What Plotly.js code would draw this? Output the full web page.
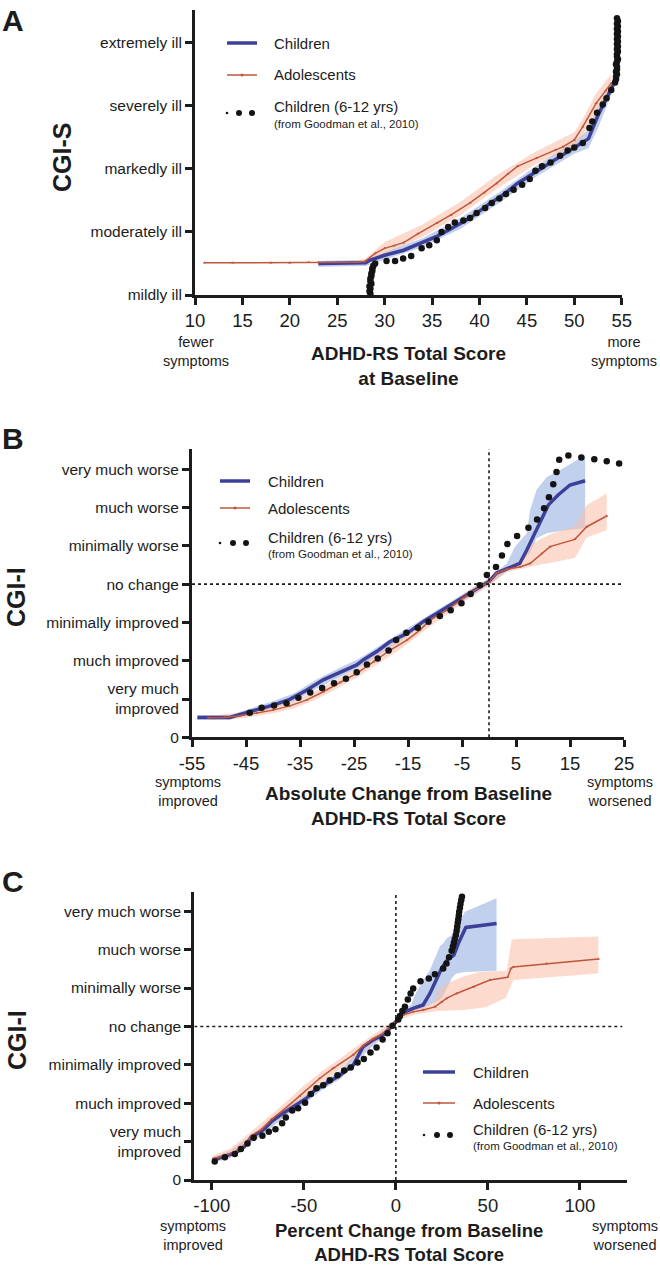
<!DOCTYPE html>
<html><head><meta charset="utf-8">
<script src="https://cdn.plot.ly/plotly-3.0.1.min.js"></script>
<style>html,body{margin:0;padding:0;background:#fff}#chart{width:660px;height:1265px}</style>
</head><body><div id="chart"></div>
<script>
// ---------------- DATA ----------------
// Panel A: CGI-S vs ADHD-RS baseline total score
const A_child_x = [23, 25, 27, 28, 28.4, 30, 32, 34, 35.5, 37, 39, 41, 42.5, 44, 46, 48, 49.5, 50.5, 51.5, 52.5, 53.3, 54.1];
const A_child_y = [3.50, 3.50, 3.50, 3.51, 3.55, 3.63, 3.71, 3.83, 3.93, 4.05, 4.22, 4.44, 4.59, 4.77, 4.96, 5.15, 5.30, 5.38, 5.48, 5.85, 6.10, 6.33];
const A_child_band_x = [23, 28, 30, 34, 38, 42, 46, 50, 51.5, 52.5, 54.1];
const A_child_lo = [3.45, 3.46, 3.56, 3.76, 4.05, 4.45, 4.88, 5.24, 5.33, 5.65, 6.25];
const A_child_hi = [3.54, 3.56, 3.68, 3.90, 4.22, 4.62, 5.05, 5.44, 5.62, 6.00, 6.40];

const A_adol_x = [11, 14, 18, 20, 22, 23, 24, 25, 26, 27, 27.9, 29, 30, 31, 32, 33.5, 35.5, 37, 39, 40.5, 41.8, 43, 44, 46, 48, 48.8, 50, 50.9, 52.3, 53.3, 53.9];
const A_adol_y = [3.51, 3.51, 3.51, 3.51, 3.52, 3.52, 3.52, 3.52, 3.52, 3.52, 3.53, 3.66, 3.74, 3.78, 3.83, 3.97, 4.14, 4.27, 4.46, 4.62, 4.77, 4.92, 5.04, 5.17, 5.30, 5.35, 5.46, 5.67, 6.04, 6.24, 6.36];
const A_adol_band_x = [27, 27.9, 30, 34, 38, 42, 46, 50, 51, 52.3, 53.9];
const A_adol_lo = [3.49, 3.49, 3.66, 3.92, 4.27, 4.70, 5.08, 5.36, 5.55, 5.88, 6.24];
const A_adol_hi = [3.55, 3.57, 3.84, 4.12, 4.48, 4.92, 5.28, 5.58, 5.82, 6.20, 6.50];

const A_good_x = [28.5, 28.4, 28.5, 28.4, 28.6, 28.5, 28.5, 28.6, 28.6, 28.7, 28.7, 28.8, 29.0, 30.2, 31.1, 31.95, 32.8, 33.9, 34.7, 35.5, 36.0, 36.7, 37.4, 38.3, 39.0, 39.7, 40.6, 41.3, 42.1, 42.8, 43.6, 44.5, 45.3, 45.9, 46.6, 47.5, 48.5, 49.3, 50.0, 50.9, 51.6, 51.9, 52.4, 53.0, 53.4, 53.9, 54.3, 54.4, 54.4, 54.5, 54.4, 54.5, 54.5, 54.4, 54.5, 54.6, 54.5, 54.5, 54.6, 54.5, 54.6, 54.5, 54.6, 54.5, 54.6, 54.5, 54.6, 54.5, 54.6, 54.5, 54.6, 54.5];
const A_good_y = [3.02, 3.06, 3.10, 3.14, 3.18, 3.22, 3.26, 3.30, 3.34, 3.38, 3.42, 3.46, 3.50, 3.54, 3.54, 3.58, 3.62, 3.74, 3.79, 3.87, 4.00, 4.08, 4.15, 4.18, 4.22, 4.30, 4.38, 4.46, 4.53, 4.60, 4.67, 4.75, 4.84, 4.97, 5.04, 5.10, 5.21, 5.29, 5.34, 5.41, 5.65, 5.75, 5.89, 6.02, 6.12, 6.25, 6.37, 6.42, 6.46, 6.50, 6.54, 6.58, 6.62, 6.66, 6.70, 6.74, 6.78, 6.82, 6.86, 6.90, 6.94, 6.98, 7.02, 7.06, 7.10, 7.14, 7.18, 7.22, 7.26, 7.30, 7.34, 7.39];

const A_xticks = [10, 15, 20, 25, 30, 35, 40, 45, 50, 55];
const A_yticks = [3, 4, 5, 6, 7];
const A_ylabels = ['mildly ill', 'moderately ill', 'markedly ill', 'severely ill', 'extremely ill'];

// Panel B: CGI-I vs absolute change
const B_child_x = [-54, -48, -44.3, -40, -36.9, -33.8, -30.7, -27.6, -24.5, -23.3, -20.8, -18.3, -15.2, -12.2, -9, -6, -3, 0, 1.4, 3.3, 5.7, 7.0, 9.1, 11.0, 12.8, 15.0, 17.8];
const B_child_y = [0.52, 0.52, 0.67, 0.84, 0.99, 1.23, 1.50, 1.69, 1.89, 2.02, 2.24, 2.50, 2.71, 3.02, 3.30, 3.55, 3.82, 4.07, 4.29, 4.40, 4.54, 4.89, 5.50, 6.07, 6.33, 6.59, 6.70];
const B_child_band_x = [-54, -48, -44, -40, -36, -32, -28, -24, -20, -16, -12, -8, -4, 0, 3.3, 4.8, 7.0, 7.6, 8.8, 10.7, 13.2, 17.8];
const B_child_lo = [0.46, 0.46, 0.60, 0.75, 0.95, 1.27, 1.55, 1.83, 2.18, 2.55, 2.93, 3.28, 3.62, 3.98, 4.33, 4.42, 4.72, 4.82, 5.20, 5.33, 5.39, 5.46];
const B_child_hi = [0.58, 0.58, 0.76, 0.94, 1.16, 1.50, 1.79, 2.06, 2.42, 2.77, 3.13, 3.48, 3.82, 4.16, 4.54, 4.98, 5.33, 5.93, 6.46, 6.80, 6.98, 7.37];

const B_adol_x = [-52, -49, -46.1, -43, -40, -36.9, -33.8, -30.7, -27.6, -24.5, -21.4, -18.3, -15.2, -12.8, -10.9, -7.8, -4.8, -1.7, 0, 1.4, 3.3, 5.7, 7.6, 9.8, 11.3, 15.9, 18.1, 21.8];
const B_adol_y = [0.51, 0.52, 0.56, 0.63, 0.71, 0.82, 0.97, 1.19, 1.43, 1.67, 1.97, 2.28, 2.54, 2.80, 3.06, 3.32, 3.63, 3.93, 4.05, 4.28, 4.39, 4.45, 4.54, 4.80, 4.98, 5.17, 5.50, 5.78];
const B_adol_band_x = [-52, -46, -40, -36, -32, -28, -24, -20, -16, -12, -8, -4, 0, 3.3, 5.7, 7.6, 9.8, 11.3, 15.9, 18.1, 21.8];
const B_adol_lo = [0.46, 0.49, 0.62, 0.76, 0.99, 1.28, 1.60, 1.98, 2.34, 2.78, 3.18, 3.60, 3.96, 4.32, 4.40, 4.45, 4.52, 4.55, 4.68, 5.22, 5.41];
const B_adol_hi = [0.56, 0.64, 0.81, 0.97, 1.22, 1.53, 1.85, 2.24, 2.61, 3.03, 3.43, 3.83, 4.15, 4.46, 4.62, 5.02, 5.20, 5.30, 5.52, 6.07, 6.37];

const B_good_x = [-44.3, -42.1, -39.8, -37.5, -35.3, -33.1, -30.9, -28.7, -26.5, -24.5, -22.6, -20.6, -18.6, -17.2, -15.3, -13.2, -11.2, -9.1, -7.1, -5.1, -3.4, -1.7, -0.4, 1.3, 2.4, 3.4, 5.2, 7.3, 8.9, 10.2, 11.1, 11.9, 12.5, 13.0, 14.7, 17.1, 19.5, 21.8, 24.1];
const B_good_y = [0.64, 0.77, 0.83, 0.89, 1.03, 1.17, 1.29, 1.41, 1.53, 1.70, 1.90, 2.06, 2.27, 2.54, 2.73, 2.86, 3.02, 3.17, 3.32, 3.50, 3.74, 3.97, 4.24, 4.45, 4.75, 5.05, 5.26, 5.47, 5.69, 5.98, 6.27, 6.61, 6.93, 7.25, 7.36, 7.31, 7.26, 7.21, 7.15];

const B_xticks = [-55, -45, -35, -25, -15, -5, 5, 15, 25];
const CGI_I_ticks = [0, 1, 2, 3, 4, 5, 6, 7];
const CGI_I_labels = ['0', 'very much<br>improved', 'much improved', 'minimally improved', 'no change', 'minimally worse', 'much worse', 'very much worse'];

// Panel C: CGI-I vs percent change
const C_child_x = [-99.3, -92.9, -86.6, -82.1, -78.4, -73.0, -67.6, -61.2, -54.0, -48.5, -44.0, -37.7, -30.4, -23.2, -17.8, -12.3, -6.9, -1.4, 4.0, 9.4, 14.8, 18.5, 22.1, 24.8, 28.4, 31.5, 33.9, 38.0, 54.7];
const C_child_y = [0.52, 0.61, 0.72, 0.87, 1.13, 1.26, 1.52, 1.74, 1.95, 2.13, 2.34, 2.52, 2.73, 2.99, 3.47, 3.65, 3.78, 4.04, 4.36, 4.47, 4.56, 4.86, 5.21, 5.51, 5.76, 5.86, 6.16, 6.58, 6.68];
const C_child_band_x = [-99.3, -90, -80, -70, -60, -50, -40, -30, -20, -10, -1.4, 4.0, 8.3, 10.3, 14.8, 18.5, 23.9, 25.7, 27.5, 30.3, 32.1, 33.0, 37.5, 54.7];
const C_child_lo = [0.45, 0.57, 0.92, 1.27, 1.67, 1.97, 2.35, 2.64, 3.16, 3.60, 3.95, 4.28, 4.38, 4.42, 4.47, 4.55, 4.69, 4.80, 4.95, 5.25, 5.35, 5.38, 5.42, 5.45];
const C_child_hi = [0.60, 0.76, 1.12, 1.48, 1.88, 2.18, 2.55, 2.85, 3.40, 3.80, 4.12, 4.44, 4.55, 4.82, 5.20, 5.47, 6.08, 6.16, 6.29, 6.38, 6.51, 6.60, 6.99, 7.34];

const C_adol_x = [-99.3, -92.9, -86.6, -82.1, -78.4, -73.0, -67.6, -61.2, -52.2, -41.3, -34.1, -23.2, -17.8, -12.3, -6.9, -1.4, 4.0, 9.4, 14.8, 21.2, 24.8, 27.5, 33.0, 42.0, 51.1, 60.7, 62.5, 63.8, 81.9, 110];
const C_adol_y = [0.56, 0.63, 0.76, 0.92, 1.16, 1.32, 1.58, 1.82, 2.19, 2.65, 2.91, 3.26, 3.50, 3.68, 3.82, 4.05, 4.30, 4.38, 4.43, 4.51, 4.64, 4.73, 4.86, 5.03, 5.21, 5.28, 5.51, 5.55, 5.64, 5.76];
const C_adol_band_x = [-99.3, -90, -80, -70, -60, -50, -40, -30, -20, -10, -1.4, 4.0, 9.4, 15, 20, 23, 27.5, 36.6, 45.7, 49.3, 59.8, 60.2, 62.9, 63.8, 110];
const C_adol_lo = [0.48, 0.58, 0.94, 1.32, 1.72, 2.15, 2.55, 2.90, 3.28, 3.63, 3.95, 4.20, 4.30, 4.35, 4.38, 4.40, 4.42, 4.43, 4.48, 4.51, 4.75, 4.77, 5.10, 5.21, 5.38];
const C_adol_hi = [0.64, 0.82, 1.20, 1.60, 2.02, 2.46, 2.84, 3.17, 3.53, 3.86, 4.15, 4.40, 4.47, 4.55, 4.60, 4.95, 5.12, 5.30, 5.42, 5.43, 5.45, 5.45, 6.25, 6.27, 6.34];

const C_good_x = [-98.4, -92.9, -87.5, -84.2, -80.6, -77.2, -72.5, -69.0, -65.4, -61.8, -59.8, -56.3, -53.1, -49.3, -46.2, -43.1, -39.5, -35.9, -31.7, -28.1, -24.5, -20.8, -17.4, -13.8, -10.5, -7.2, -4.5, -1.8, 1.3, 2.2, 3.5, 4.9, 6.5, 8.0, 9.4, 13.4, 17.9, 21.2, 25.7, 27.5, 28.9, 30.3, 31.0, 31.5, 32.0, 32.6, 33.0, 33.3, 33.6, 33.9, 34.2, 34.4, 34.8, 35.1, 35.5, 35.9];
const C_good_y = [0.48, 0.59, 0.68, 0.81, 0.95, 1.10, 1.15, 1.26, 1.32, 1.48, 1.63, 1.81, 1.87, 2.01, 2.24, 2.39, 2.47, 2.60, 2.73, 2.85, 2.93, 3.06, 3.15, 3.32, 3.45, 3.66, 3.82, 4.02, 4.18, 4.27, 4.40, 4.51, 4.70, 4.86, 4.99, 5.18, 5.25, 5.36, 5.51, 5.64, 5.80, 5.97, 6.08, 6.18, 6.28, 6.38, 6.49, 6.60, 6.70, 6.79, 6.89, 6.99, 7.09, 7.19, 7.29, 7.38];

const C_xticks = [-100, -50, 0, 50, 100];

// ---------------- STYLE ----------------
const W = 660, H = 1265;
const FONT = 'Liberation Sans, Arial, Helvetica, sans-serif';
const INK = '#1c1c1c';
const BLUE = '#3d3f98', BLUE_FILL = 'rgba(140,170,222,0.55)';
const ORANGE = '#c0573b', ORANGE_FILL = 'rgba(250,190,165,0.55)';
const DOT = '#141414';
const px = v => v / W;
const py = v => 1 - v / H;

function band(xs, lo, hi, fill, xa, ya) {
  return {x: xs.concat(xs.slice().reverse()), y: hi.concat(lo.slice().reverse()),
    xaxis: xa, yaxis: ya, type: 'scatter', mode: 'lines', fill: 'toself',
    fillcolor: fill, line: {width: 0}, hoverinfo: 'skip'};
}
function childLine(x, y, xa, ya) {
  return {x, y, xaxis: xa, yaxis: ya, type: 'scatter', mode: 'lines', line: {color: BLUE, width: 3.5}};
}
function adolLine(x, y, xa, ya) {
  return {x, y, xaxis: xa, yaxis: ya, type: 'scatter', mode: 'lines+markers',
    line: {color: ORANGE, width: 1.5}, marker: {color: ORANGE, size: 3, symbol: 'triangle-up'}};
}
function dots(x, y, xa, ya, s) {
  return {x, y, xaxis: xa, yaxis: ya, type: 'scatter', mode: 'markers', cliponaxis: false,
    marker: {color: DOT, size: s, line: {width: 0}}};
}

const data = [
  band(A_child_band_x, A_child_lo, A_child_hi, BLUE_FILL, 'x', 'y'),
  band(A_adol_band_x, A_adol_lo, A_adol_hi, ORANGE_FILL, 'x', 'y'),
  childLine(A_child_x, A_child_y, 'x', 'y'),
  adolLine(A_adol_x, A_adol_y, 'x', 'y'),
  dots(A_good_x, A_good_y, 'x', 'y', 6.5),

  band(B_child_band_x, B_child_lo, B_child_hi, BLUE_FILL, 'x2', 'y2'),
  band(B_adol_band_x, B_adol_lo, B_adol_hi, ORANGE_FILL, 'x2', 'y2'),
  childLine(B_child_x, B_child_y, 'x2', 'y2'),
  adolLine(B_adol_x, B_adol_y, 'x2', 'y2'),
  dots(B_good_x, B_good_y, 'x2', 'y2', 6.5),

  band(C_child_band_x, C_child_lo, C_child_hi, BLUE_FILL, 'x3', 'y3'),
  band(C_adol_band_x, C_adol_lo, C_adol_hi, ORANGE_FILL, 'x3', 'y3'),
  childLine(C_child_x, C_child_y, 'x3', 'y3'),
  adolLine(C_adol_x, C_adol_y, 'x3', 'y3'),
  dots(C_good_x, C_good_y, 'x3', 'y3', 6.5)
];

function xax(domain, range, ticks, anchor) {
  return {domain, range, tickvals: ticks, ticktext: ticks.map(String), anchor,
    showline: true, linewidth: 3, linecolor: INK, ticks: 'outside', ticklen: 7, tickwidth: 3,
    tickcolor: INK, showgrid: false, zeroline: false, fixedrange: true,
    tickfont: {family: FONT, size: 18.5, color: INK}};
}
function yax(domain, range, ticks, labels, anchor) {
  return {domain, range, tickvals: ticks, ticktext: labels, anchor,
    showline: true, linewidth: 3, linecolor: INK, ticks: 'outside', ticklen: 7, tickwidth: 3,
    tickcolor: INK, showgrid: false, zeroline: false, fixedrange: true,
    tickfont: {family: FONT, size: 15.5, color: INK}};
}

const ann = [];
function T(text, x, y, size, opts) {
  ann.push(Object.assign({text, x: px(x), y: py(y), xref: 'paper', yref: 'paper', showarrow: false,
    xanchor: 'center', yanchor: 'middle', font: {family: FONT, size, color: INK}}, opts || {}));
}
// panel letters
T('<b>A</b>', 13, 20, 30);
T('<b>B</b>', 13, 438, 30);
T('<b>C</b>', 13, 881, 30);
// y titles
T('<b>CGI-S</b>', 62, 157, 25, {textangle: -90});
T('<b>CGI-I</b>', 16, 597, 25, {textangle: -90});
T('<b>CGI-I</b>', 17, 1040, 25, {textangle: -90});
// x titles
T('<b>ADHD-RS Total Score</b><br><b>at Baseline</b>', 408, 366, 19);
T('<b>Absolute Change from Baseline</b><br><b>ADHD-RS Total Score</b>', 408, 806, 19);
T('<b>Percent Change from Baseline</b><br><b>ADHD-RS Total Score</b>', 409, 1242, 18.5);
// direction notes
T('fewer<br>symptoms', 196, 352, 14.5);
T('more<br>symptoms', 624, 352, 14.5);
T('symptoms<br>improved', 188, 791, 14.5);
T('symptoms<br>worsened', 620, 791, 14.5);
T('symptoms<br>improved', 193, 1235, 14.5);
T('symptoms<br>worsened', 625, 1235, 14.5);

const shapes = [];
// reference dotted lines
shapes.push({type: 'line', xref: 'x2', yref: 'y2', x0: -55, x1: 25, y0: 4, y1: 4, line: {color: INK, width: 1.6, dash: 'dot'}});
shapes.push({type: 'line', xref: 'x2', yref: 'y2', x0: 0, x1: 0, y0: 0, y1: 7.53, line: {color: INK, width: 1.6, dash: 'dot'}});
shapes.push({type: 'line', xref: 'x3', yref: 'y3', x0: -109.5, x1: 123, y0: 4, y1: 4, line: {color: INK, width: 1.6, dash: 'dot'}});
shapes.push({type: 'line', xref: 'x3', yref: 'y3', x0: 0, x1: 0, y0: 0, y1: 7.51, line: {color: INK, width: 1.6, dash: 'dot'}});

// legends
function legend(x0, x1, yC, yA, yD, tx, dotXs) {
  shapes.push({type: 'line', xref: 'paper', yref: 'paper', x0: px(x0), x1: px(x1), y0: py(yC), y1: py(yC), line: {color: BLUE, width: 3.5}});
  shapes.push({type: 'line', xref: 'paper', yref: 'paper', x0: px(x0), x1: px(x1), y0: py(yA), y1: py(yA), line: {color: ORANGE, width: 1.5}});
  const mx = (x0 + x1) / 2;
  shapes.push({type: 'circle', xref: 'paper', yref: 'paper', x0: px(mx - 1.5), x1: px(mx + 1.5), y0: py(yA + 1.5), y1: py(yA - 1.5), fillcolor: ORANGE, line: {width: 0}});
  dotXs.forEach((d, i) => {
    const r = i === 0 ? 1.3 : 3;
    shapes.push({type: 'circle', xref: 'paper', yref: 'paper', x0: px(d - r), x1: px(d + r), y0: py(yD + r), y1: py(yD - r), fillcolor: DOT, line: {width: 0}});
  });
  T('Children', tx, yC, 15, {xanchor: 'left'});
  T('Adolescents', tx, yA, 15, {xanchor: 'left'});
  T('Children (6-12 yrs)', tx, yD - 6, 15, {xanchor: 'left'});
  T('(from Goodman et al., 2010)', tx, yD + 11, 11.5, {xanchor: 'left'});
}
legend(227, 257, 43, 75, 113, 272, [227, 239, 252]);
legend(220, 250, 481, 508, 543, 266, [220, 233, 246]);
legend(423, 455, 1072, 1103, 1135, 471, [424, 437, 450]);

const layout = {
  width: W, height: H, margin: {l: 0, r: 0, t: 0, b: 0},
  paper_bgcolor: '#fff', plot_bgcolor: 'rgba(0,0,0,0)', showlegend: false,
  font: {family: FONT, color: INK},
  xaxis: xax([195 / W, 621.7 / W], [10, 55], A_xticks, 'y'),
  yaxis: yax([py(295), py(10)], [3, 7.52], A_yticks, A_ylabels, 'x'),
  xaxis2: xax([192 / W, 624 / W], [-55, 25], B_xticks, 'y2'),
  yaxis2: yax([py(737.3), py(449)], [0, 7.53], CGI_I_ticks, CGI_I_labels, 'x2'),
  xaxis3: xax([194.3 / W, 626.7 / W], [-109.5, 125.4], C_xticks, 'y3'),
  yaxis3: yax([py(1180), py(891.7)], [0, 7.51], CGI_I_ticks, CGI_I_labels, 'x3'),
  annotations: ann, shapes
};
Plotly.newPlot('chart', data, layout, {displayModeBar: false, staticPlot: true});
</script></body></html>
